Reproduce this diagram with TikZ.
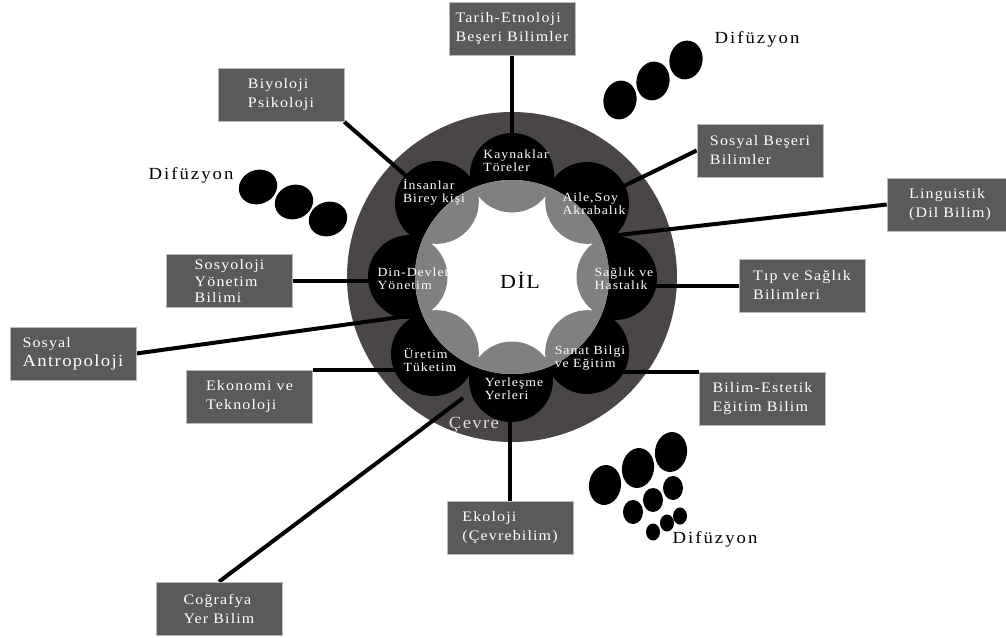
\documentclass[tikz,border=0pt]{standalone}
\usepackage{fontspec}
\setmainfont{Liberation Serif}[LetterSpace=8,FakeStretch=1.1]
\usetikzlibrary{calc}
\pgfdeclarelayer{disc}
\pgfdeclarelayer{links}
\pgfsetlayers{disc,links,main}
\definecolor{discgrey}{HTML}{4A4646}
\definecolor{boxgrey}{HTML}{5A5A5A}
\definecolor{bumpgrey}{HTML}{808080}
\definecolor{cevregrey}{HTML}{DCDCDC}
\tikzset{
  topic/.style={fill=boxgrey, draw=gray!55, line width=0.6pt, minimum width=126pt,
    minimum height=53pt, inner sep=0pt, text=white, align=left,
    font=\fontsize{14.5}{19}\selectfont},
  petal/.style={circle, fill=black, minimum size=84pt, inner sep=0pt},
  petaltext/.style={text=white, align=left, inner sep=0pt,
    font=\fontsize{12.5}{12.8}\selectfont},
  link/.style={line width=4pt, draw=black},
  diftext/.style={inner sep=0pt, font=\fontsize{17}{19}\selectfont\addfontfeature{LetterSpace=12}}
}
\begin{document}
\begin{tikzpicture}[x=1pt,y=-1pt]
\useasboundingbox (0,0) rectangle (1006,637);
\begin{pgfonlayer}{disc}
  \fill[white] (0,0) rectangle (1006,637);
  \coordinate (c) at (512,277);
  \fill[discgrey] (c) circle[radius=165pt];
\end{pgfonlayer}

% petals (black circles)
\node[petal] (kay) at (512,175) {};
\node[petal] (ins) at (437,203) {};
\node[petal] (aile) at (587,204) {};
\node[petal] (din) at (410,277) {};
\node[petal] (sag) at (615,278) {};
\node[petal] (ure) at (433,354) {};
\node[petal] (san) at (587,352) {};
\node[petal] (yer) at (511,380) {};

% inner white disc with grey bumps
\fill[white] (c) circle[radius=97pt];
\begin{scope}
  \clip (c) circle[radius=97pt];
  \foreach \a in {0,45,...,315}
    \fill[bumpgrey] ($(c)+(\a:107)$) circle[radius=42.5pt];
\end{scope}

% petal texts
\node[petaltext] (kayt) at (516,161) {Kaynaklar\\Töreler};
\node[petaltext] (inst) at (434,192) {İnsanlar\\Birey kişi};
\node[petaltext] (ailet) at (594,204) {Aile,Soy\\Akrabalık};
\node[petaltext] (dint) at (413,279) {Din-Devlet\\Yönetim};
\node[petaltext] (sagt) at (624,279) {Sağlık ve\\Hastalık};
\node[petaltext] (uret) at (430,360) {Üretim\\Tüketim};
\node[petaltext] (sant) at (590,358) {Sanat Bilgi\\ve Eğitim};
\node[petaltext] (yert) at (514,389) {Yerleşme\\Yerleri};
\node[inner sep=0pt, font=\fontsize{20}{22}\selectfont] (dil) at (520,280) {DİL};
\node[inner sep=0pt, text=cevregrey, font=\fontsize{17}{19}\selectfont] (cevre) at (474,425) {Çevre};

% topic boxes
\node[topic] (tarih) at (512,29) {Tarih-Etnoloji\\Beşeri Bilimler};
\node[topic] (biyo) at (281,95) {Biyoloji\\Psikoloji};
\node[topic] (sbb) at (760,150.5) {Sosyal Beşeri\\Bilimler};
\node[topic] (ling) at (950,204.5) {Linguistik\\(Dil Bilim)};
\node[topic] (tip) at (802,285.5) {Tıp ve Sağlık\\Bilimleri};
\node[topic] (bil) at (762.5,398.5) {Bilim-Estetik\\Eğitim Bilim};
\node[topic] (eko) at (510,528) {Ekoloji\\(Çevrebilim)};
\node[topic] (cog) at (219,608.5) {Coğrafya\\Yer Bilim};
\node[topic, font=\fontsize{14.5}{16.5}\selectfont] (sos) at (229.5,281) {Sosyoloji\\Yönetim\\Bilimi};
\node[topic] (ant) at (73,353.5) {Sosyal\\{\fontsize{17}{19}\selectfont Antropoloji}};
\node[topic] (ekon) at (249.5,397) {Ekonomi ve\\Teknoloji};

% free ends
\coordinate (lingend) at (610,236);
\coordinate (cogend) at (463,398);
\coordinate (antend) at (408,316);

\begin{pgfonlayer}{links}
  \draw[link] (tarih.south) -- (tarih.south |- kay.center);
  \draw[link] (biyo.south east) -- (ins.center);
  \draw[link] (sbb.west) -- (aile.center);
  \draw[link] (ling.west) -- (lingend);
  \draw[link] (tip.west) -- (tip.west -| sag.center);
  \draw[link] (bil.north west) -- (bil.north west -| san.center);
  \draw[link] (eko.north) -- (eko.north |- yer.center);
  \draw[link] (cog.north) -- (cogend);
  \draw[link] (ekon.north east) -- (ekon.north east -| ure.center);
  \draw[link] (ant.east) -- (antend);
  \draw[link] (sos.east) -- (sos.east -| din.center);
\end{pgfonlayer}

% diffusion: top right
\foreach \p in {(620,100),(653,81),(686,60)}
  \fill[rotate around={-12:\p}] \p ellipse[x radius=16.5pt, y radius=19.5pt];
\node[diftext] (dif1) at (757,39) {Difüzyon};

% diffusion: left
\foreach \p in {(258,187),(294,202),(328,219)}
  \fill[rotate around={22:\p}] \p ellipse[x radius=19.5pt, y radius=17pt];
\node[diftext] (dif2) at (191,175) {Difüzyon};

% diffusion: bottom right
\foreach \p in {(605,485),(638,468),(671,452)}
  \fill[rotate around={-8:\p}] \p ellipse[x radius=16pt, y radius=20pt];
\foreach \p in {(633,512),(653,500),(673,488)}
  \fill \p ellipse[x radius=10pt, y radius=12pt];
\foreach \p in {(653,532),(667,523),(680,516)}
  \fill \p ellipse[x radius=7pt, y radius=8.5pt];
\node[diftext] (dif3) at (715,539) {Difüzyon};
\end{tikzpicture}
\end{document}
